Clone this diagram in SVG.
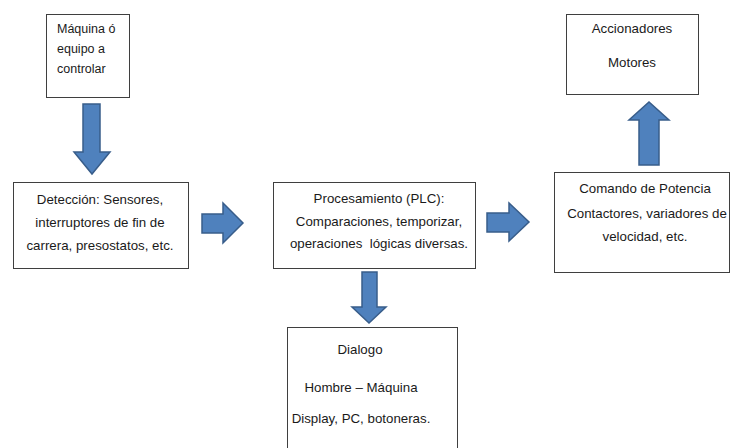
<svg xmlns="http://www.w3.org/2000/svg" width="732" height="448" viewBox="0 0 732 448">
<style>
.box{fill:#fff;stroke:#3f3f3f;stroke-width:1}
.t{font-family:"Liberation Sans",Arial,sans-serif;font-size:13.3px;fill:#1a1a1a;text-anchor:middle}
.s{font-family:"Liberation Sans",Arial,sans-serif;font-size:12.5px;fill:#1a1a1a}
.arr{fill:#4f81bd;stroke:#385d8a;stroke-width:1.5;stroke-linejoin:miter}
</style>
<rect width="732" height="448" fill="#fff"/>
<g id="maquina">
<rect class="box" x="46.5" y="14.5" width="83" height="83"/>
<text class="s" x="57" y="33">Máquina ó</text>
<text class="s" x="57" y="53">equipo a</text>
<text class="s" x="57" y="73">controlar</text>
</g>
<g id="deteccion">
<rect class="box" x="13.5" y="182.5" width="175" height="86"/>
<text class="t" x="100" y="204">Detección: Sensores,</text>
<text class="t" x="100" y="227">interruptores de fin de</text>
<text class="t" x="100" y="250">carrera, presostatos, etc.</text>
</g>
<g id="procesamiento">
<rect class="box" x="273.5" y="182.5" width="202" height="86"/>
<text class="t" x="379" y="203">Procesamiento (PLC):</text>
<text class="t" x="379" y="226">Comparaciones, temporizar,</text>
<text class="t" x="379" y="248" xml:space="preserve">operaciones  lógicas diversas.</text>
</g>
<g id="comando">
<rect class="box" x="554.5" y="172.5" width="175" height="100"/>
<text class="t" x="645" y="193">Comando de Potencia</text>
<text class="t" x="647" y="218">Contactores, variadores de</text>
<text class="t" x="645" y="241">velocidad, etc.</text>
</g>
<g id="accionadores">
<rect class="box" x="566.5" y="14.5" width="132" height="80"/>
<text class="t" x="632" y="33">Accionadores</text>
<text class="t" x="632" y="67">Motores</text>
</g>
<g id="dialogo">
<rect class="box" x="287.5" y="327.5" width="170" height="130"/>
<text class="t" x="360" y="354">Dialogo</text>
<text class="t" x="361" y="392">Hombre – Máquina</text>
<text class="t" x="361" y="423">Display, PC, botoneras.</text>
</g>
<g id="connectors">
<polygon class="arr" points="83,104 100,104 100,152 110,152 92,174 74,152 83,152"/>
<polygon class="arr" points="202,214 223,214 223,203 243,223 223,243 223,233 202,233"/>
<polygon class="arr" points="487,213 509,213 509,203 529,222 509,241 509,232 487,232"/>
<polygon class="arr" points="639,165 639,120 629,120 649,102 669,120 659,120 659,165"/>
<polygon class="arr" points="362,272 377,272 377,307 386,307 369,323 352,307 362,307"/>
</g>
</svg>
